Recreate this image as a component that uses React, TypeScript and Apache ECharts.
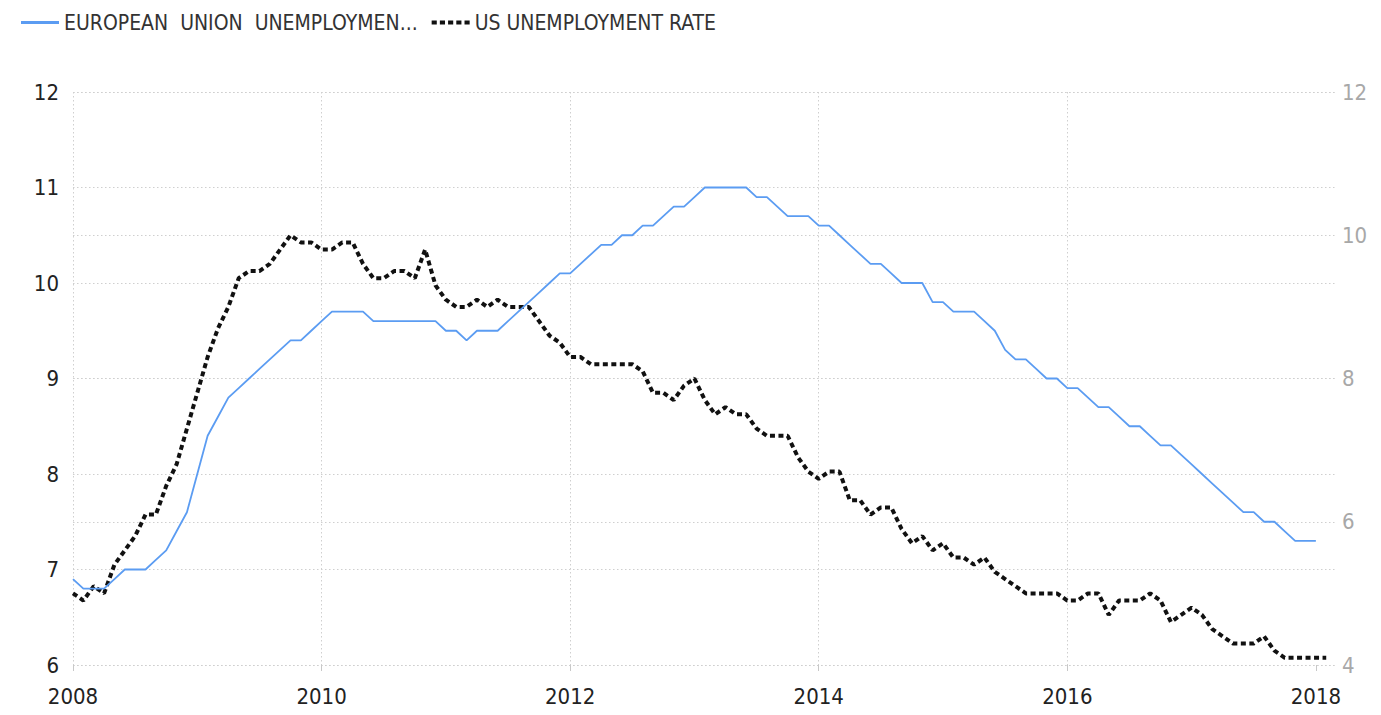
import React, { useEffect, useRef } from "react";
import * as echarts from "echarts";

const START_YEAR = 2008;
const EU_NAME = "EUROPEAN UNION UNEMPLOYMENT RATE";
const US_NAME = "US UNEMPLOYMENT RATE";
const EU_LEGEND = "EUROPEAN  UNION  UNEMPLOYMEN...";

// monthly, starting January 2008
const euRate = [
  6.9, 6.8, 6.8, 6.8, 6.9, 7.0, 7.0, 7.0, 7.1, 7.2, 7.4, 7.6,
  8.0, 8.4, 8.6, 8.8, 8.9, 9.0, 9.1, 9.2, 9.3, 9.4, 9.4, 9.5,
  9.6, 9.7, 9.7, 9.7, 9.7, 9.6, 9.6, 9.6, 9.6, 9.6, 9.6, 9.6,
  9.5, 9.5, 9.4, 9.5, 9.5, 9.5, 9.6, 9.7, 9.8, 9.9, 10.0, 10.1,
  10.1, 10.2, 10.3, 10.4, 10.4, 10.5, 10.5, 10.6, 10.6, 10.7, 10.8, 10.8,
  10.9, 11.0, 11.0, 11.0, 11.0, 11.0, 10.9, 10.9, 10.8, 10.7, 10.7, 10.7,
  10.6, 10.6, 10.5, 10.4, 10.3, 10.2, 10.2, 10.1, 10.0, 10.0, 10.0, 9.8,
  9.8, 9.7, 9.7, 9.7, 9.6, 9.5, 9.3, 9.2, 9.2, 9.1, 9.0, 9.0,
  8.9, 8.9, 8.8, 8.7, 8.7, 8.6, 8.5, 8.5, 8.4, 8.3, 8.3, 8.2,
  8.1, 8.0, 7.9, 7.8, 7.7, 7.6, 7.6, 7.5, 7.5, 7.4, 7.3, 7.3,
  7.3,
];

const usRate = [
  5.0, 4.9, 5.1, 5.0, 5.4, 5.6, 5.8, 6.1, 6.1, 6.5, 6.8, 7.3,
  7.8, 8.3, 8.7, 9.0, 9.4, 9.5, 9.5, 9.6, 9.8, 10.0, 9.9, 9.9,
  9.8, 9.8, 9.9, 9.9, 9.6, 9.4, 9.4, 9.5, 9.5, 9.4, 9.8, 9.3,
  9.1, 9.0, 9.0, 9.1, 9.0, 9.1, 9.0, 9.0, 9.0, 8.8, 8.6, 8.5,
  8.3, 8.3, 8.2, 8.2, 8.2, 8.2, 8.2, 8.1, 7.8, 7.8, 7.7, 7.9,
  8.0, 7.7, 7.5, 7.6, 7.5, 7.5, 7.3, 7.2, 7.2, 7.2, 6.9, 6.7,
  6.6, 6.7, 6.7, 6.3, 6.3, 6.1, 6.2, 6.2, 5.9, 5.7, 5.8, 5.6,
  5.7, 5.5, 5.5, 5.4, 5.5, 5.3, 5.2, 5.1, 5.0, 5.0, 5.0, 5.0,
  4.9, 4.9, 5.0, 5.0, 4.7, 4.9, 4.9, 4.9, 5.0, 4.9, 4.6, 4.7,
  4.8, 4.7, 4.5, 4.4, 4.3, 4.3, 4.3, 4.4, 4.2, 4.1, 4.1, 4.1,
  4.1, 4.1,
];

const yearTicks = [2008, 2010, 2012, 2014, 2016, 2018];
const X_MAX = 2018.17;

const FONT = "'Liberation Sans Narrow', 'DejaVu Sans Condensed', 'Arial Narrow', 'Liberation Sans', Arial, sans-serif";

const EU_ICON = "path://M0,0h38v3h-38z";
const US_ICON =
  "path://M0,0h5v4h-5zM8,0h5v4h-5zM16,0h5v4h-5zM24,0h5v4h-5zM32,0h5v4h-5z";

const toPairs = (vals: number[]) => vals.map((v, i) => [START_YEAR + i / 12, v]);

export default function App() {
  const ref = useRef<HTMLDivElement>(null);
  useEffect(() => {
    if (!ref.current) return;
    const chart = echarts.init(ref.current, null, { renderer: "svg" });
    const gridLine = { show: true, lineStyle: { color: "#cfcfcf", type: [1.5, 2.5], width: 1 } };
    chart.setOption({
      animation: false,
      backgroundColor: "#ffffff",
      textStyle: { fontFamily: FONT },
      legend: {
        left: 16,
        top: 7,
        itemWidth: 38,
        itemHeight: 14,
        itemGap: 14,
        textStyle: { fontFamily: FONT, fontSize: 21, color: "#333" },
        formatter: (name: string) => (name === EU_NAME ? EU_LEGEND : name),
        data: [
          { name: EU_NAME, icon: EU_ICON, itemStyle: { color: "#5b9cf2" } },
          { name: US_NAME, icon: US_ICON, itemStyle: { color: "#111" } },
        ],
      },
      grid: { left: 73, right: 44, top: 92, bottom: 50, containLabel: false },
      xAxis: {
        type: "value",
        min: START_YEAR,
        max: X_MAX,
        interval: 2,
        axisLine: { show: false },
        axisTick: { show: true, length: 6, lineStyle: { color: "#c8c8c8" }, customValues: yearTicks },
        axisLabel: {
          customValues: yearTicks,
          formatter: (v: number) => String(Math.round(v)),
          color: "#222",
          fontSize: 22,
          fontFamily: FONT,
          margin: 20,
        },
        splitLine: { ...gridLine, showMaxLine: false },
      },
      yAxis: [
        {
          type: "value",
          min: 6,
          max: 12,
          interval: 1,
          position: "left",
          axisLine: { show: false },
          axisTick: { show: false },
          axisLabel: { color: "#222", fontSize: 22, fontFamily: FONT, margin: 14 },
          splitLine: gridLine,
        },
        {
          type: "value",
          min: 4,
          max: 12,
          interval: 2,
          position: "right",
          axisLine: { show: false },
          axisTick: { show: false },
          axisLabel: { color: "#a8a8a8", fontSize: 22, fontFamily: FONT, margin: 5 },
          splitLine: gridLine,
        },
      ],
      series: [
        {
          name: EU_NAME,
          type: "line",
          yAxisIndex: 0,
          data: toPairs(euRate),
          symbol: "none",
          lineStyle: { color: "#5b9cf2", width: 1.8 },
          itemStyle: { color: "#5b9cf2" },
          z: 3,
        },
        {
          name: US_NAME,
          type: "line",
          yAxisIndex: 1,
          data: toPairs(usRate),
          symbol: "none",
          lineStyle: { color: "#111", width: 4, type: [5, 3.5] },
          itemStyle: { color: "#111" },
          z: 2,
        },
      ],
    });
    return () => chart.dispose();
  }, []);
  return (
    <div
      ref={ref}
      style={{ position: "fixed", left: 0, top: 0, width: 1381, height: 715, background: "#fff" }}
    />
  );
}
